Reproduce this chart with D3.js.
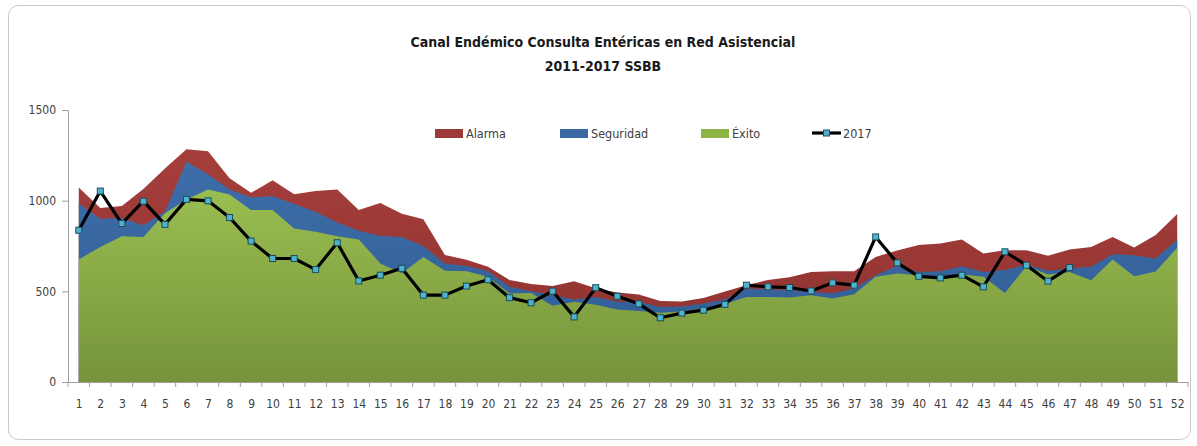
<!DOCTYPE html>
<html>
  <head>
    <meta charset="utf-8">
    <title>Canal Endémico Consulta Entéricas</title>
    <script src="https://d3js.org/d3.v7.min.js"></script>
    <style>
      body { margin: 0; background: #fff; }
      text { font-family: "Liberation Sans Narrow", "DejaVu Sans Condensed", sans-serif; fill: #404040; }
    </style>
  </head>
  <body>
    <svg id="chart" width="1197" height="446"></svg>
    <script>
      // data (week 1..52)
      weeks = d3.range(1, 53);
      alarma = [1073, 960, 970, 1065, 1178, 1283, 1273, 1123, 1043, 1113, 1036, 1054, 1062, 948, 987, 928, 897, 701, 674, 635,
        563, 540, 530, 556, 517, 493, 483, 447, 444, 463, 499, 534, 563, 577, 607, 611, 611, 690, 725, 755,
        764, 786, 709, 727, 727, 696, 731, 745, 800, 742, 810, 926];
      seguridad = [985, 900, 905, 865, 939, 1214, 1146, 1062, 1018, 1025, 981, 939, 880, 834, 805, 800, 750, 654, 640, 612,
        525, 500, 480, 455, 469, 442, 442, 414, 416, 433, 456, 516, 510, 508, 497, 490, 516, 589, 640, 607,
        611, 639, 607, 617, 648, 613, 626, 635, 705, 699, 681, 786];
      exito = [676, 745, 804, 800, 930, 1007, 1062, 1034, 948, 948, 847, 828, 804, 786, 654, 600, 690, 613, 611, 580,
        488, 491, 420, 442, 426, 400, 392, 382, 390, 405, 430, 469, 469, 466, 479, 460, 484, 580, 598, 589,
        565, 593, 580, 491, 639, 593, 607, 561, 676, 583, 610, 740];
      y2017 = [837, 1053, 874, 997, 869, 1007, 999, 907, 777, 681, 681, 620, 768, 557, 589, 627, 479, 479, 529, 564,
        465, 437, 501, 359, 520, 473, 431, 354, 380, 396, 428, 534, 525, 521, 502, 547, 534, 800, 657, 583,
        574, 589, 525, 718, 644, 556, 631];
      yTicks = [0, 500, 1000, 1500];

      svg = d3.select("#chart");

      // frame
      svg.append("rect")
        .attr("x", 8.5).attr("y", 5.5)
        .attr("width", 1182).attr("height", 434)
        .attr("rx", 10)
        .attr("fill", "none")
        .attr("stroke", "#c8c8c8");

      // title
      svg.append("text")
        .attr("x", 603).attr("y", 47)
        .attr("text-anchor", "middle")
        .style("font-size", "14px").style("font-weight", "bold").style("fill", "#1a1a1a")
        .text("Canal Endémico Consulta Entéricas en Red Asistencial");
      svg.append("text")
        .attr("x", 603).attr("y", 71)
        .attr("text-anchor", "middle")
        .style("font-size", "14px").style("font-weight", "bold").style("fill", "#1a1a1a")
        .text("2011-2017 SSBB");

      x = d3.scalePoint().domain(weeks).range([68, 1188]).padding(0.5);
      y = d3.scaleLinear().domain([0, 1500]).range([382, 110]);

      // gradients
      defs = svg.append("defs");
      function grad(id, top, bottom) {
        let g = defs.append("linearGradient").attr("id", id)
          .attr("gradientUnits", "userSpaceOnUse")
          .attr("x1", 0).attr("x2", 0).attr("y1", 140).attr("y2", 382);
        g.append("stop").attr("offset", "0%").attr("stop-color", top);
        g.append("stop").attr("offset", "100%").attr("stop-color", bottom);
      }
      grad("gRed", "#a63f3c", "#8c312f");
      grad("gBlue", "#3f70ad", "#2f5a90");
      grad("gGreen", "#a2c957", "#76933a");

      function areaFor(vals) {
        return d3.area()
          .x(function(d, i) { return x(weeks[i]); })
          .y0(y(0))
          .y1(function(d) { return y(d); })(vals);
      }
      svg.append("path").attr("d", areaFor(alarma)).attr("fill", "url(#gRed)");
      svg.append("path").attr("d", areaFor(seguridad)).attr("fill", "url(#gBlue)");
      svg.append("path").attr("d", areaFor(exito)).attr("fill", "url(#gGreen)");

      // axes
      yAxis = d3.axisLeft(y).tickValues(yTicks).tickFormat(d3.format("d")).tickSize(6).tickPadding(6);
      gy = svg.append("g").attr("transform", "translate(68,0)").call(yAxis);
      xAxis = d3.axisBottom(x).tickSize(0).tickPadding(17);
      gx = svg.append("g").attr("transform", "translate(0,382)").call(xAxis);
      // tick marks between categories
      gx.selectAll(".sep")
        .data(d3.range(53))
        .enter().append("line")
          .attr("x1", function(d) { return 68 + d * x.step(); })
          .attr("x2", function(d) { return 68 + d * x.step(); })
          .attr("y1", 0).attr("y2", 5)
          .attr("stroke", "#a0a0a0");
      svg.selectAll(".domain").attr("stroke", "#a0a0a0");
      gy.selectAll(".tick line").attr("stroke", "#a0a0a0");
      svg.selectAll(".tick text").style("font-size", "12px").style("fill", "#404040");

      // 2017 line
      line = d3.line()
        .x(function(d, i) { return x(weeks[i]); })
        .y(function(d) { return y(d); });
      svg.append("path")
        .attr("d", line(y2017))
        .attr("fill", "none")
        .attr("stroke", "#000")
        .attr("stroke-width", 3.2)
        .attr("stroke-linejoin", "round");
      svg.selectAll(".mk")
        .data(y2017)
        .enter().append("rect")
          .attr("class", "mk")
          .attr("x", function(d, i) { return x(weeks[i]) - 3; })
          .attr("y", function(d) { return y(d) - 3; })
          .attr("width", 6).attr("height", 6)
          .attr("fill", "#4fb3cf")
          .attr("stroke", "#1d4f5c")
          .attr("stroke-width", 1);

      // legend
      legend = [
        ["Alarma", "#9c3a38", 435],
        ["Seguridad", "#3b68a3", 560],
        ["Éxito", "#8db545", 701]
      ];
      lg = svg.append("g");
      legend.forEach(function(d) {
        lg.append("rect").attr("x", d[2]).attr("y", 129).attr("width", 28).attr("height", 9).attr("fill", d[1]);
        lg.append("text").attr("x", d[2] + 31).attr("y", 138).style("font-size", "12.5px").text(d[0]);
      });
      lg.append("line").attr("x1", 812).attr("x2", 841).attr("y1", 133).attr("y2", 133)
        .attr("stroke", "#000").attr("stroke-width", 3.2);
      lg.append("rect").attr("x", 823.5).attr("y", 130).attr("width", 6).attr("height", 6)
        .attr("fill", "#4fb3cf").attr("stroke", "#1d4f5c");
      lg.append("text").attr("x", 843).attr("y", 138).style("font-size", "12.5px").text("2017");
    </script>
  </body>
</html>
